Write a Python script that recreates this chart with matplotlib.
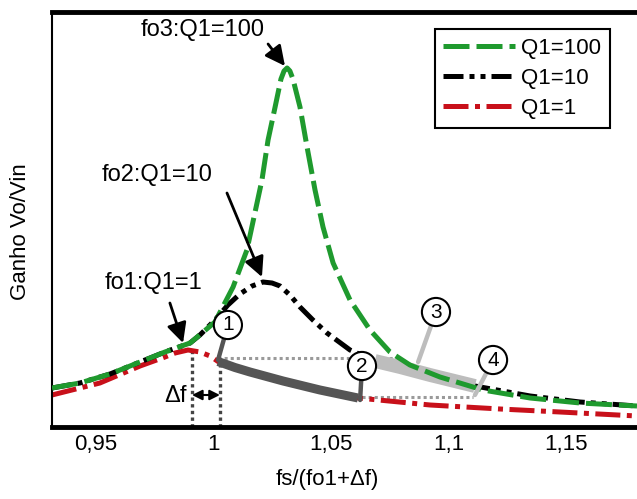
import matplotlib

matplotlib.use("Agg")
import matplotlib.pyplot as plt
import numpy as np

plt.rcParams["font.family"] = ["Liberation Sans", "DejaVu Sans"]
plt.rcParams["font.size"] = 16

# gain curves vs fs/(fo1+Δf)
q100_x = [0.9312, 0.9431, 0.9559, 0.9687, 0.9793, 0.9900, 1.0006, 1.0083, 1.0142,
          1.0206, 1.0232, 1.0262, 1.0287, 1.0300, 1.0313, 1.0325, 1.0338, 1.0368,
          1.0398, 1.0432, 1.0466, 1.0509, 1.0581, 1.0666, 1.0751, 1.0836, 1.0964,
          1.1147, 1.1348, 1.1560, 1.1803]
q100_gain = [0.39, 0.44, 0.53, 0.65, 0.75, 0.84, 1.05, 1.40, 1.77,
             2.47, 2.87, 3.20, 3.48, 3.56, 3.59, 3.56, 3.48, 3.20,
             2.80, 2.37, 2.00, 1.64, 1.27, 0.97, 0.75, 0.62, 0.50,
             0.37, 0.29, 0.24, 0.21]

q10_x = [0.9312, 0.9431, 0.9559, 0.9687, 0.9793, 0.9900, 0.9942, 1.0006, 1.0061,
         1.0112, 1.0164, 1.0210, 1.0249, 1.0283, 1.0325, 1.0368, 1.0423, 1.0483,
         1.0581, 1.0687, 1.0794, 1.0922, 1.1113, 1.1348, 1.1560, 1.1803]
q10_gain = [0.39, 0.44, 0.53, 0.65, 0.75, 0.84, 0.92, 1.07, 1.22,
            1.33, 1.41, 1.45, 1.44, 1.41, 1.32, 1.20, 1.07, 0.94,
            0.77, 0.66, 0.60, 0.52, 0.41, 0.31, 0.25, 0.21]

q1_x = [0.9312, 0.9516, 0.9687, 0.9793, 0.9836, 0.9891, 0.9942, 0.9985, 1.0019,
        1.0091, 1.0155, 1.0296, 1.0453, 1.0615, 1.0922, 1.1220, 1.1475, 1.1803]
q1_gain = [0.32, 0.44, 0.61, 0.70, 0.74, 0.77, 0.75, 0.71, 0.655,
           0.595, 0.55, 0.46, 0.37, 0.29, 0.22, 0.18, 0.15, 0.11]

x_ticks = [0.95, 1.0, 1.05, 1.1, 1.15]
x_tick_labels = ["0,95", "1", "1,05", "1,1", "1,15"]

# operating points 1..4 (frequency on the curves)
fo1 = 0.9908
fo1_df = 1.0027
p1_x, p2_x = 1.0019, 1.0615   # along Q1=1
p3_x, p4_x = 1.0687, 1.1113   # along Q1=10
level_hi, level_lo = 0.69, 0.30

GREEN = "#1f9a2e"
RED = "#c8101a"
DARK = "#555555"
LIGHT = "#bdbdbd"

fig = plt.figure(figsize=(6.37, 4.99), dpi=100)
ax = fig.add_axes([52 / 637, 72 / 499, 585 / 637, 415 / 499])

q1_x_a, q1_g_a = np.array(q1_x), np.array(q1_gain)
q10_x_a, q10_g_a = np.array(q10_x), np.array(q10_gain)

ax.plot(q1_x, q1_gain, color=RED, lw=3.6, ls=(0, (5, 1.3, 1, 1.3)),
        label="Q1=1", zorder=2)
ax.plot(q10_x, q10_gain, color="black", lw=3.6, ls=(0, (4, 1.2, 1, 1.2, 1, 1.2)),
        label="Q1=10", zorder=2.1)
ax.plot(q100_x, q100_gain, color=GREEN, lw=3.6, ls=(0, (5.2, 1.4)),
        label="Q1=100", zorder=3)

# highlighted segments 1-2 and 3-4
m12 = (q1_x_a >= p1_x) & (q1_x_a <= p2_x)
ax.plot(q1_x_a[m12], q1_g_a[m12], color=DARK, lw=6.5, solid_capstyle="butt", zorder=2.6)
m34 = (q10_x_a >= p3_x) & (q10_x_a <= p4_x)
ax.plot(q10_x_a[m34], q10_g_a[m34], color=LIGHT, lw=10, solid_capstyle="butt", zorder=2.5)

# equal-gain guides
ax.plot([p1_x, 1.0794], [level_hi, level_hi], color="#9a9a9a", lw=2.2, ls=(0, (1, 1)), zorder=1.5)
ax.plot([1.0632, 1.1105], [level_lo, level_lo], color="#9a9a9a", lw=2.2, ls=(0, (1, 1)), zorder=1.5)
ax.plot([fo1, fo1], [0, max(q1_gain)], color="#444444", lw=2.4, ls=(0, (1, 1)), zorder=1.5)
ax.plot([fo1_df, fo1_df], [0, 0.655], color="#444444", lw=2.4, ls=(0, (1, 1)), zorder=1.5)

# Δf marker
ax.annotate("", xy=(fo1, 0.32), xytext=(fo1_df, 0.32),
            arrowprops=dict(arrowstyle="<|-|>,head_length=0.5,head_width=0.25",
                            color="black", lw=1.5, mutation_scale=12,
                            shrinkA=0, shrinkB=0))
ax.text(0.9836, 0.31, "Δf", ha="center", va="center", fontsize=17)

# resonance labels
arrow_kw = dict(arrowstyle="-|>,head_length=0.6,head_width=0.3", color="black",
                lw=2, mutation_scale=20, shrinkA=0, shrinkB=0)
ax.text(0.9955, 3.97, "fo3:Q1=100", ha="center", va="center", fontsize=17)
ax.annotate("", xy=(1.0304, 3.61), xytext=(1.0232, 3.83), arrowprops=arrow_kw)
ax.text(0.9759, 2.52, "fo2:Q1=10", ha="center", va="center", fontsize=17)
ax.annotate("", xy=(1.0206, 1.50), xytext=(1.0057, 2.34), arrowprops=arrow_kw)
ax.text(0.9746, 1.44, "fo1:Q1=1", ha="center", va="center", fontsize=17)
ax.annotate("", xy=(0.9870, 0.84), xytext=(0.9814, 1.24), arrowprops=arrow_kw)

# numbered operating points
points = [
    ("1", (1.0061, 1.02), (p1_x, level_hi - 0.02), DARK),
    ("2", (1.0632, 0.61), (1.0624, 0.27), DARK),
    ("3", (1.0947, 1.15), (1.0871, 0.65), LIGHT),
    ("4", (1.1190, 0.67), (1.1113, 0.32), LIGHT),
]
for num, txt_pos, tip, col in points:
    ax.annotate(num, xy=tip, xytext=txt_pos, ha="center", va="center", fontsize=15,
                bbox=dict(boxstyle="circle,pad=0.22", fc="white", ec="black", lw=1.5),
                arrowprops=dict(arrowstyle="-", color=col, lw=3.2, shrinkA=0, shrinkB=0),
                zorder=5)

ax.set_xlim(0.9312, 1.1803)
ax.set_ylim(0, 4.15)
ax.set_xticks(x_ticks)
ax.set_xticklabels(x_tick_labels)
ax.set_yticks([])
ax.tick_params(axis="x", length=0, pad=5)

ax.spines["right"].set_visible(False)
ax.spines["left"].set_linewidth(1.5)
ax.spines["top"].set_linewidth(3.5)
ax.spines["bottom"].set_linewidth(3.5)

ax.set_xlabel("fs/(fo1+Δf)")
ax.xaxis.set_label_coords(0.47, -0.10)
ax.set_ylabel("Ganho Vo/Vin")
ax.yaxis.set_label_coords(-0.036, 0.47)

handles, labels = ax.get_legend_handles_labels()
order = [2, 1, 0]
leg = ax.legend([handles[i] for i in order], [labels[i] for i in order],
                loc="upper right", bbox_to_anchor=(0.954, 0.959), borderaxespad=0,
                fancybox=False, framealpha=1, edgecolor="black",
                handlelength=3.2, handletextpad=0.3, labelspacing=0.4,
                borderpad=0.4)
leg.get_frame().set_linewidth(1.5)

fig.savefig("out.png", dpi=100)
